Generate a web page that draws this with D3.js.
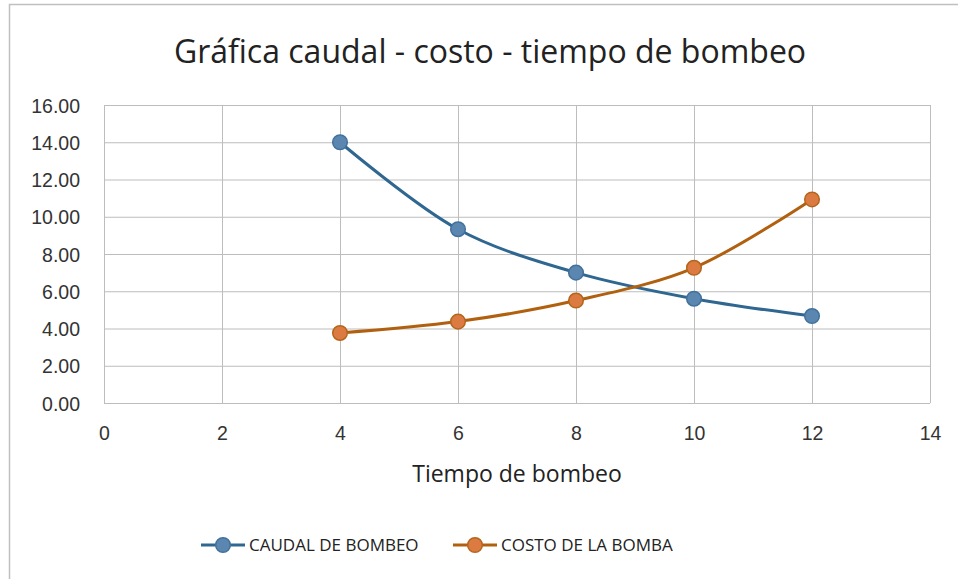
<!DOCTYPE html>
<html>
<head>
<meta charset="utf-8">
<script src="https://cdn.jsdelivr.net/npm/d3@7"></script>
<style>
  body { margin: 0; background: #fff; }
  svg { font-family: "Open Sans", "Noto Sans", sans-serif; }
</style>
</head>
<body>
<svg width="958" height="579"></svg>
<script>
// data
const tiempo = [4, 6, 8, 10, 12];
const caudal = [14.0, 9.33, 7.0, 5.6, 4.67];
const costo = [3.76, 4.37, 5.5, 7.26, 10.93];
const xTicks = [0, 2, 4, 6, 8, 10, 12, 14];
const yTicks = [0, 2, 4, 6, 8, 10, 12, 14, 16];

const series = [
  { name: "CAUDAL DE BOMBEO", values: caudal, line: "#2F6791", fill: "#5A86B0", stroke: "#41719C" },
  { name: "COSTO DE LA BOMBA", values: costo, line: "#B1600F", fill: "#DB7B42", stroke: "#B5651B" }
];

const svg = d3.select("svg");

// chart frame
svg.append("rect").attr("x", 9.5).attr("y", 4.5).attr("width", 1000).attr("height", 1000)
  .attr("fill", "none").attr("stroke", "#c0c0c0").attr("stroke-width", 1.5);

const x = d3.scaleLinear().domain([0, 14]).range([104, 930]);
const y = d3.scaleLinear().domain([0, 16]).range([403, 105]);

// gridlines
svg.append("g").selectAll("line").data(yTicks).join("line")
  .attr("x1", x(0)).attr("x2", x(14))
  .attr("y1", d => y(d) + 0.5).attr("y2", d => y(d) + 0.5)
  .attr("stroke", "#bdbdbd").attr("stroke-width", 1);
svg.append("g").selectAll("line").data(xTicks).join("line")
  .attr("y1", y(0)).attr("y2", y(16))
  .attr("x1", d => x(d) + 0.5).attr("x2", d => x(d) + 0.5)
  .attr("stroke", "#bdbdbd").attr("stroke-width", 1);

// axes
const yAxis = svg.append("g").attr("transform", `translate(${x(0) - 21},0)`)
  .call(d3.axisLeft(y).tickValues(yTicks).tickFormat(d3.format(".2f")).tickSize(0));
yAxis.select(".domain").remove();
yAxis.selectAll("text").attr("font-size", 19.5).attr("fill", "#333").attr("dy", "0.36em").attr("dx", 0);

const xAxis = svg.append("g").attr("transform", `translate(0,${y(0) + 28})`)
  .call(d3.axisBottom(x).tickValues(xTicks).tickFormat(d3.format("d")).tickSize(0));
xAxis.select(".domain").remove();
xAxis.selectAll("text").attr("font-size", 19.5).attr("fill", "#333").attr("dy", "0.3em");

// titles
svg.append("text").attr("x", 490).attr("y", 63).attr("text-anchor", "middle")
  .attr("font-size", 32).attr("fill", "#222").text("Gráfica caudal - costo - tiempo de bombeo");
svg.append("text").attr("x", 517).attr("y", 482).attr("text-anchor", "middle")
  .attr("font-size", 23).attr("fill", "#222").text("Tiempo de bombeo");

// lines
const line = d3.line().x(d => x(d[0])).y(d => y(d[1])).curve(d3.curveCatmullRom.alpha(0.5));
series.forEach(s => {
  const pts = tiempo.map((t, i) => [t, s.values[i]]);
  svg.append("path").datum(pts).attr("d", line)
    .attr("fill", "none").attr("stroke", s.line).attr("stroke-width", 3);
  svg.append("g").selectAll("circle").data(pts).join("circle")
    .attr("cx", d => x(d[0])).attr("cy", d => y(d[1])).attr("r", 7.3)
    .attr("fill", s.fill).attr("stroke", s.stroke).attr("stroke-width", 1.5);
});

// legend
const legX = [201, 453];
series.forEach((s, i) => {
  const g = svg.append("g").attr("transform", `translate(${legX[i]},545)`);
  g.append("line").attr("x1", 0).attr("x2", 44).attr("stroke", s.line).attr("stroke-width", 3);
  g.append("circle").attr("cx", 22).attr("r", 7.3).attr("fill", s.fill).attr("stroke", s.stroke).attr("stroke-width", 1.5);
  g.append("text").attr("x", 48).attr("dy", "0.36em").attr("font-size", 17).attr("fill", "#222").text(s.name);
});
</script>
</body>
</html>
